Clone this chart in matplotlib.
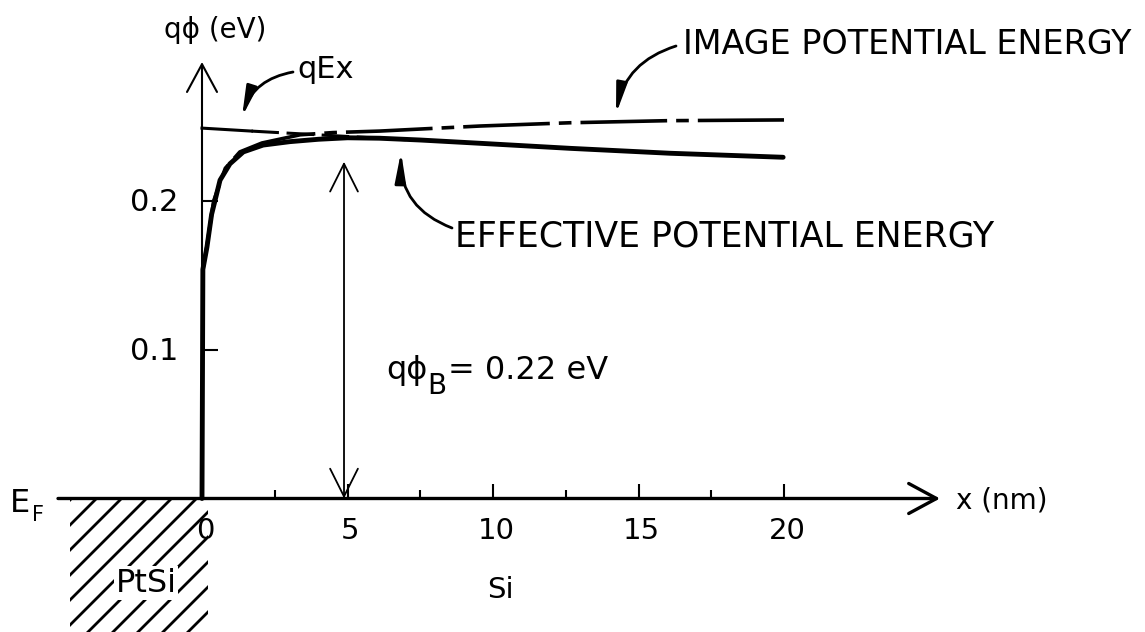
import numpy as np
import matplotlib.pyplot as plt

# values (x in nm, q*phi in eV)
eff_x = [0.0, 0.03, 0.17, 0.33, 0.62, 0.96, 1.42, 2.1, 3.02, 4.0, 5.0, 6.1, 7.5, 9.55, 12.65, 16.08, 19.97]
eff_y = [0.0, 0.154, 0.169, 0.191, 0.214, 0.225, 0.233, 0.2376, 0.2399, 0.2415, 0.2425, 0.2422, 0.241, 0.2388, 0.2354, 0.2321, 0.2294]

img_x = [0.03, 0.17, 0.4, 0.8, 1.3, 2.06, 3.37, 4.5, 6.1, 9.55, 12.65, 16.0, 20.0]
img_y = [0.154, 0.17, 0.2, 0.222, 0.233, 0.239, 0.2445, 0.246, 0.247, 0.2504, 0.2526, 0.254, 0.2545]

qex_x = [0.0, 1.7, 7.0]
qex_y = [0.249, 0.247, 0.2412]

phi_b = 0.2264
phi_b_x = 4.88

xmajor = [0, 5, 10, 15, 20]
xmajor_labels = ['0', '5', '10', '15', '20']
xminor = [2.5, 7.5, 12.5, 17.5]
yticks = [0.1, 0.2]
ytick_labels = ['0.1', '0.2']

# pixel frame of the original drawing
W, H = 1145, 632
PX0, PY0 = 202, 498.5
SX, SY = 29.1, 1487.5

def dx(p):
    return (p - PX0) / SX

def dy(p):
    return (PY0 - p) / SY

plt.rcParams['font.family'] = ['DejaVu Sans']
fig = plt.figure(figsize=(W / 100, H / 100), dpi=100)
ax = fig.add_axes([0, 0, 1, 1])
ax.set_xlim(dx(0), dx(W))
ax.set_ylim(dy(H), dy(0))
ax.axis('off')

k = 'black'
open_head = dict(arrowstyle='->,head_length=1.0,head_width=0.54', color=k,
                 mutation_scale=20, shrinkA=0, shrinkB=0)

# axes
ax.annotate('', xy=(dx(940), 0), xytext=(dx(58), 0),
            arrowprops=dict(open_head, lw=2.4))
ax.annotate('', xy=(0, dy(62)), xytext=(0, 0),
            arrowprops=dict(open_head, lw=1.5))

# ticks
ax.vlines([t for t in xmajor if t > 0], 0, 15 / SY, color=k, lw=1.5)
ax.vlines(xminor, 0, 9 / SY, color=k, lw=1.5)
ax.hlines(yticks, 0, 16 / SX, color=k, lw=1.5)
for t, s in zip(xmajor, xmajor_labels):
    ax.text(t + 0.1, dy(531), s, ha='center', va='center', fontsize=21)
for t, s in zip(yticks, ytick_labels):
    ax.text(dx(178), t - 2 / SY, s, ha='right', va='center', fontsize=22)

# curves
ax.plot(eff_x, eff_y, color=k, lw=3.5, solid_capstyle='round', zorder=4)
ax.plot(img_x, img_y, color=k, lw=2.6, dashes=(24, 2.5, 3.5, 2.5), zorder=3)
ax.plot(qex_x[:2], qex_y[:2], color=k, lw=2.2, zorder=3)
ax.plot(qex_x[1:], qex_y[1:], color=k, lw=2.2, dashes=(9, 2.5), zorder=3)

# barrier height arrow
ax.annotate('', xy=(phi_b_x, phi_b), xytext=(phi_b_x, 0),
            arrowprops=dict(open_head, arrowstyle='<->,head_length=1.0,head_width=0.5', lw=1.3))
ax.text(dx(386), dy(371), 'qϕ', ha='left', va='center', fontsize=23)
ax.text(dx(427), dy(386), 'B', ha='left', va='center', fontsize=20)
ax.text(dx(448), dy(371), '= 0.22 eV', ha='left', va='center', fontsize=23)

# axis labels
ax.text(dx(215), dy(30), 'qϕ (eV)', ha='center', va='center', fontsize=20)
ax.text(dx(956), dy(501), 'x (nm)', ha='left', va='center', fontsize=20)
ax.text(dx(10), dy(503), 'E', ha='left', va='center', fontsize=23)
ax.text(dx(32), dy(515), 'F', ha='left', va='center', fontsize=15)
ax.text(dx(500), dy(590), 'Si', ha='center', va='center', fontsize=21)

# PtSi hatching
clip = plt.Rectangle((dx(70), dy(H)), dx(208) - dx(70), dy(500) - dy(H),
                     transform=ax.transData, fill=False, lw=0)
ax.add_patch(clip)
for x0 in np.arange(70, 340, 25):
    ln, = ax.plot([dx(x0 - 140), dx(x0)], [dy(640), dy(500)], color=k, lw=2.0)
    ln.set_clip_path(clip)
ax.text(dx(146), dy(583), 'PtSi', ha='center', va='center', fontsize=23,
        bbox=dict(facecolor='white', edgecolor='none', pad=1), zorder=5)

# labels with curved pointers
thin_head = dict(arrowstyle='-|>,head_length=0.9,head_width=0.16', color=k,
                 mutation_scale=20, lw=2, shrinkA=0, shrinkB=0)
ax.text(dx(297), dy(70), 'qEx', ha='left', va='center', fontsize=22)
ax.annotate('', xy=(dx(242), dy(117)), xytext=(dx(293), dy(72)),
            arrowprops=dict(thin_head, connectionstyle='arc3,rad=0.3'))
ax.text(dx(683), dy(45), 'IMAGE POTENTIAL ENERGY', ha='left', va='center', fontsize=24)
ax.annotate('', xy=(dx(616), dy(114)), xytext=(dx(676), dy(46)),
            arrowprops=dict(thin_head, connectionstyle='arc3,rad=0.3'))
ax.text(dx(455), dy(237), 'EFFECTIVE POTENTIAL ENERGY', ha='left', va='center', fontsize=25)
ax.annotate('', xy=(dx(401), dy(152)), xytext=(dx(452), dy(228)),
            arrowprops=dict(thin_head, connectionstyle='arc3,rad=-0.35'))

fig.savefig('out.png', dpi=100)
